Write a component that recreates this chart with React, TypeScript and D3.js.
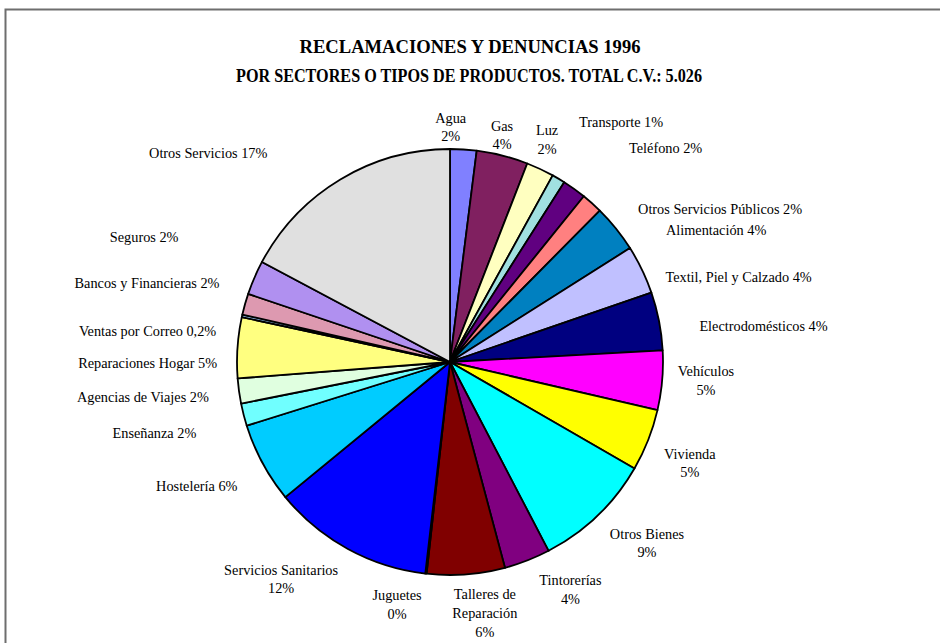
import React from 'react';
import * as d3 from 'd3';

// sectors, clockwise from 12 o'clock
const sectors = [
  'Agua', 'Gas', 'Luz', 'Transporte', 'Teléfono', 'Otros Servicios Públicos',
  'Alimentación', 'Textil, Piel y Calzado', 'Electrodomésticos', 'Vehículos',
  'Vivienda', 'Otros Bienes', 'Tintorerías', 'Talleres de Reparación', 'Juguetes',
  'Servicios Sanitarios', 'Hostelería', 'Enseñanza', 'Agencias de Viajes',
  'Reparaciones Hogar', 'Ventas por Correo', 'Bancos y Financieras', 'Seguros',
  'Otros Servicios',
];

// share of complaints (%)
const shares = [
  2.0, 3.9, 2.1, 1.0, 1.8, 1.6, 3.6, 3.7, 4.4, 4.5, 4.7, 9.0,
  3.5, 5.9, 0.1, 12.2, 6.1, 1.7, 1.9, 4.6, 0.2, 1.6, 2.6, 17.2,
];

// percentages as printed on the chart
const pctLabels = [
  '2%', '4%', '2%', '1%', '2%', '2%', '4%', '4%', '4%', '5%', '5%', '9%',
  '4%', '6%', '0%', '12%', '6%', '2%', '2%', '5%', '0,2%', '2%', '2%', '17%',
];

// how each label is broken into lines
const labelLines: string[][] = [
  ['Agua', '2%'], ['Gas', '4%'], ['Luz', '2%'], ['Transporte 1%'], ['Teléfono 2%'],
  ['Otros Servicios Públicos 2%'], ['Alimentación 4%'], ['Textil, Piel y Calzado 4%'],
  ['Electrodomésticos 4%'], ['Vehículos', '5%'], ['Vivienda', '5%'], ['Otros Bienes', '9%'],
  ['Tintorerías', '4%'], ['Talleres de', 'Reparación', '6%'], ['Juguetes', '0%'],
  ['Servicios Sanitarios', '12%'], ['Hostelería 6%'], ['Enseñanza 2%'],
  ['Agencias de Viajes 2%'], ['Reparaciones Hogar 5%'], ['Ventas por Correo 0,2%'],
  ['Bancos y Financieras 2%'], ['Seguros 2%'], ['Otros Servicios 17%'],
];

const titleLines = [
  'RECLAMACIONES Y DENUNCIAS 1996',
  'POR SECTORES O TIPOS DE PRODUCTOS. TOTAL C.V.: 5.026',
];

const colors = [
  '#8080FF', '#802060', '#FFFFC0', '#A0E0E0', '#600080', '#FF8080',
  '#0080C0', '#C0C0FF', '#000080', '#FF00FF', '#FFFF00', '#00FFFF',
  '#800080', '#800000', '#008080', '#0000FF', '#00CCFF', '#70FFFF',
  '#E0FFE0', '#FFFF80', '#99CCFF', '#DD99B0', '#B090F0', '#E0E0E0',
];

// label nudges from the slice's outer edge (Excel placed these by hand)
const labelNudge: [number, number][] = [
  [-12.7, -26.7], [-0.3, -24.8], [6.9, -34], [62.6, -52], [91.4, -35.6],
  [128.1, 10.9], [100.2, 6.7], [96.6, 12.2], [104.5, 9.9], [43.8, -4],
  [41.7, 18.5], [49.6, 22.9], [43.2, 24.7], [18.8, 25], [-28.9, 26.3],
  [-66.8, 25.7], [-65.8, 27.7], [-89.2, 23.7], [-96.1, 10.7], [-89.9, 20.7],
  [-94.5, 19.9], [-98, -16.2], [-110.3, -35.9], [-132.1, -21.8],
];

const W = 940;
const H = 643;
const cx = 450;
const cy = 362;
const R = 213;
const lineH = 18.7;
const font = "'Liberation Serif', 'Times New Roman', Times, serif";

type Slice = { name: string; value: number; i: number };

const App = () => {
  const data: Slice[] = sectors.map((s, i) => ({ name: s, value: shares[i], i }));

  const pie = d3
    .pie<Slice>()
    .value((d) => d.value)
    .sort(null);
  const arcs = pie(data);

  const arc = d3.arc<d3.PieArcDatum<Slice>>().innerRadius(0).outerRadius(R);
  const edge = d3.arc<d3.PieArcDatum<Slice>>().innerRadius(R).outerRadius(R);

  return (
    <svg
      width={W}
      height={H}
      style={{ position: 'absolute', left: 0, top: 0, display: 'block', background: '#fff', fontFamily: font }}
    >
      <rect x={5.5} y={9.5} width={1000} height={1000} fill="#fff" stroke="#6e6e6e" strokeWidth={2} />

      <text x={470} y={53} textAnchor="middle" fontSize={18} fontWeight="bold" textLength={341} lengthAdjust="spacingAndGlyphs">
        {titleLines[0]}
      </text>
      <text x={469} y={81.5} textAnchor="middle" fontSize={18} fontWeight="bold" textLength={466} lengthAdjust="spacingAndGlyphs">
        {titleLines[1]}
      </text>

      <g transform={`translate(${cx},${cy})`}>
        {arcs.map((a) => (
          <path key={a.data.name} d={arc(a) || ''} fill={colors[a.data.i]} stroke="#000" strokeWidth={1.8} strokeLinejoin="round" />
        ))}
        {arcs.map((a) => {
          const [px, py] = edge.centroid(a);
          const [dx, dy] = labelNudge[a.data.i];
          const lines = labelLines[a.data.i];
          return (
            <text
              key={'l' + a.data.name}
              x={px + dx}
              y={py + dy}
              textAnchor="middle"
              fontSize={14.3}
              fill="#000"
              data-pct={pctLabels[a.data.i]}
            >
              {lines.map((ln, k) => (
                <tspan key={k} x={px + dx} dy={k === 0 ? 0 : lineH}>
                  {ln}
                </tspan>
              ))}
            </text>
          );
        })}
      </g>
    </svg>
  );
};

export default App;
